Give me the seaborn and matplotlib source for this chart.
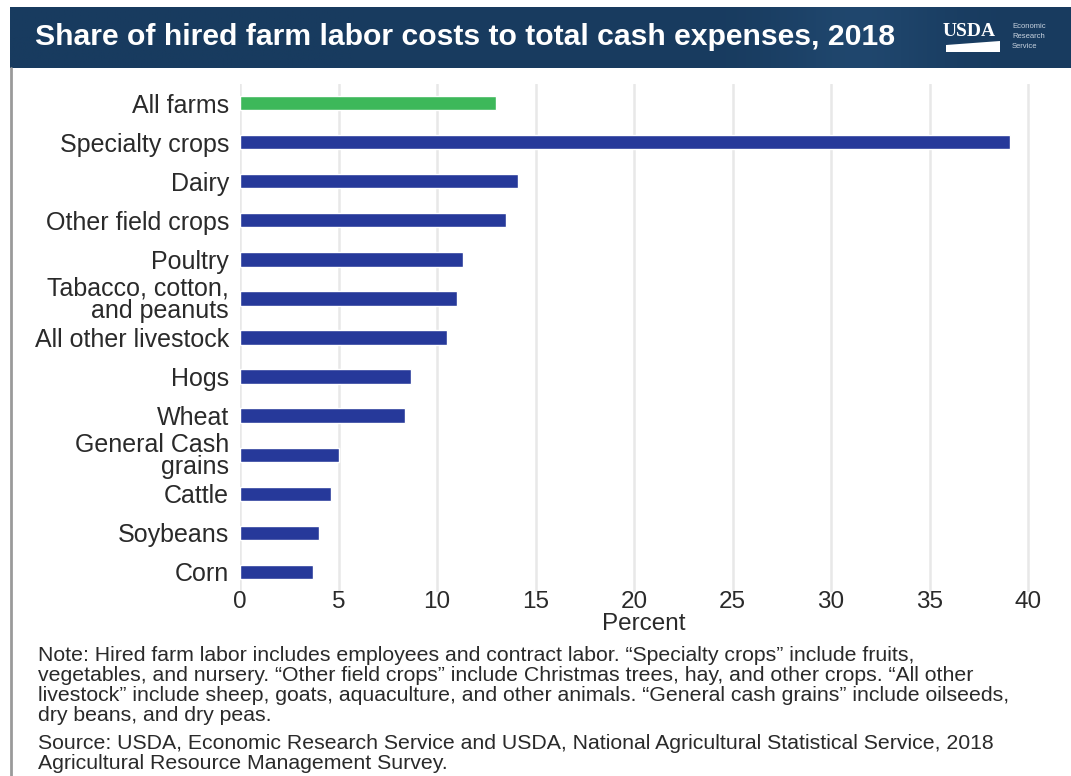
import numpy as np
import pandas as pd
import matplotlib
matplotlib.use("Agg")
from matplotlib import pyplot as plt
from matplotlib.patches import Polygon
import seaborn as sns

# data
categories = ['All farms', 'Specialty crops', 'Dairy', 'Other field crops', 'Poultry',
              'Tabacco, cotton,\nand peanuts', 'All other livestock', 'Hogs', 'Wheat',
              'General Cash\ngrains', 'Cattle', 'Soybeans', 'Corn']
shares = [13.0, 39.1, 14.1, 13.5, 11.3, 11.0, 10.5, 8.7, 8.4, 5.0, 4.6, 4.0, 3.7]
groups = ['all'] + ['type'] * 12
xticks = [0, 5, 10, 15, 20, 25, 30, 35, 40]

title = 'Share of hired farm labor costs to total cash expenses, 2018'
note = ('Note: Hired farm labor includes employees and contract labor. \u201cSpecialty crops\u201d include fruits,\n'
        'vegetables, and nursery. \u201cOther field crops\u201d include Christmas trees, hay, and other crops. \u201cAll other\n'
        'livestock\u201d include sheep, goats, aquaculture, and other animals. \u201cGeneral cash grains\u201d include oilseeds,\n'
        'dry beans, and dry peas.')
source = ('Source: USDA, Economic Research Service and USDA, National Agricultural Statistical Service, 2018\n'
          'Agricultural Resource Management Survey.')

df = pd.DataFrame({'category': categories, 'share': shares, 'group': groups})

sns.set_style('white')
plt.rcParams['font.family'] = ['Liberation Sans', 'DejaVu Sans']

W, H = 1071, 776
fig = plt.figure(figsize=(W / 100, H / 100), dpi=100)

def fx(px):
    return px / W

def fy(py):
    return 1 - py / H

# header band with a soft lighter streak
hdr = fig.add_axes([fx(10), fy(68), fx(W - 10), (68 - 7) / H])
grad = np.linspace(0, 1, 400)
streak = np.exp(-((grad - 0.8) / 0.08) ** 2) * 0.35
c0 = np.array([0x18, 0x3b, 0x5f]) / 255
c1 = np.array([0x2e, 0x5c, 0x88]) / 255
img = c0[None, :] * (1 - streak[:, None]) + c1[None, :] * streak[:, None]
hdr.imshow(img[None, :, :], aspect='auto', extent=[0, 1, 0, 1])
hdr.set_xlim(0, 1)
hdr.set_ylim(0, 1)
hdr.axis('off')

fig.text(fx(35), fy(37), title, color='white', fontsize=21.7, fontweight='bold',
         va='center', ha='left')

# USDA logo
fig.text(fx(943), fy(32), 'USDA', color='white', fontsize=14, family='Liberation Serif',
         fontweight='bold', va='center', ha='left')
fig.patches.append(Polygon([[fx(946), fy(45)], [fx(1000), fy(41)], [fx(1000), fy(52)], [fx(946), fy(52)]],
                           closed=True, transform=fig.transFigure, facecolor='white', edgecolor='none'))
for i, w in enumerate(['Economic', 'Research', 'Service']):
    fig.text(fx(1012), fy(27 + i * 10), w, color='#c8d3df', fontsize=5.5, va='center', ha='left')

# left border
fig.add_artist(plt.Line2D([fx(11), fx(11)], [fy(68), 0], transform=fig.transFigure,
                          color='#9a9a9a', linewidth=2))

# bar chart
ax = fig.add_axes([fx(240), fy(591.5), fx(41 * 19.7), 508 / H])
sns.barplot(data=df, x='share', y='category', hue='group', order=categories,
            palette={'all': '#3db85a', 'type': '#26399a'}, saturation=1, width=0.37,
            dodge=False, legend=False, ax=ax, zorder=3)
ax.set_xlim(0, 41)
ax.set_xticks(xticks)
ax.set_xticklabels([str(t) for t in xticks])
ax.xaxis.grid(True, color='#e8e8e8', linewidth=1.8, zorder=0)
ax.set_axisbelow(True)
for s in ax.spines.values():
    s.set_visible(False)
ax.tick_params(axis='y', length=0, labelsize=18, colors='#2a2a2a', pad=8)
ax.tick_params(axis='x', length=0, labelsize=17.5, colors='#2a2a2a', pad=0)
for lbl in ax.get_yticklabels():
    lbl.set_linespacing(0.9)
ax.set_ylabel('')
ax.set_xlabel('Percent', fontsize=17.5, color='#2a2a2a', labelpad=0)

fig.text(fx(38), fy(646), note, fontsize=15.3, color='#2a2a2a', va='top', ha='left',
         linespacing=1.06)
fig.text(fx(38), fy(734), source, fontsize=15.3, color='#2a2a2a', va='top', ha='left',
         linespacing=1.06)

fig.savefig('out.png', dpi=100)
